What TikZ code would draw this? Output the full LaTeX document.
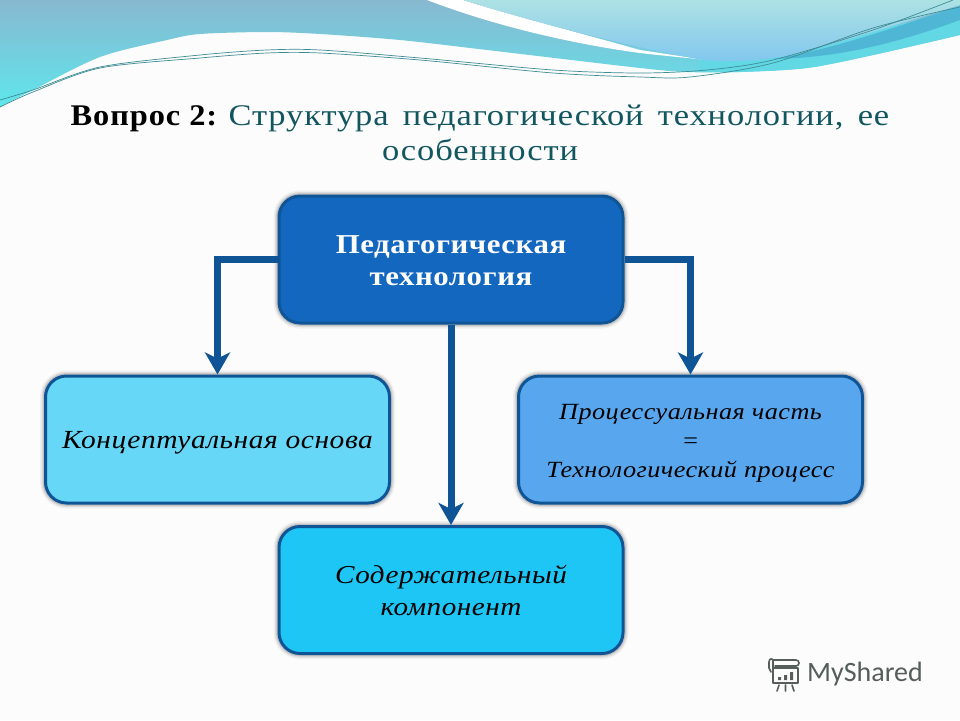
\documentclass[tikz,border=0pt]{standalone}
\usepackage{fontspec}
\setmainfont{Liberation Serif}
\newfontfamily\ttlfont[FakeStretch=1.15,LetterSpace=3,WordSpace=1.5]{Liberation Serif}
\newfontfamily\ttlstrong[FakeStretch=1.08,LetterSpace=3]{Liberation Serif}
\newfontfamily\boxfont[FakeStretch=1.13,LetterSpace=2]{Liberation Serif}
\newfontfamily\markfont{Carlito}
\usetikzlibrary{arrows.meta,shapes.misc}
\definecolor{pagebg}{HTML}{FCFCFC}
\definecolor{wavetop}{HTML}{88B8D0}
\definecolor{wavemid}{HTML}{70D2E0}
\definecolor{wavelow}{HTML}{5EE6EC}
\definecolor{paletop}{HTML}{ADE2E4}
\definecolor{palelow}{HTML}{80C6EE}
\definecolor{bandc}{HTML}{4FB6D6}
\definecolor{cyanc}{HTML}{62D8E4}
\definecolor{linec}{HTML}{3E8C94}
\definecolor{ttlc}{HTML}{12565F}
\definecolor{edgec}{HTML}{0F5596}
\definecolor{topfill}{HTML}{1367BE}
\definecolor{leftfill}{HTML}{67D7F7}
\definecolor{rightfill}{HTML}{57A6EE}
\definecolor{lowfill}{HTML}{1EC6F5}
\definecolor{markc}{HTML}{555E5B}
\tikzset{
  softedge/.style={preaction={draw=black,draw opacity=.05,line width=11pt},
                   preaction={draw=black,draw opacity=.08,line width=8pt},
                   preaction={draw=black,draw opacity=.12,line width=5.5pt}},
  boxnode/.style={rounded corners=21pt,draw=edgec,line width=3pt,softedge,
    minimum width=344pt,minimum height=127pt,inner sep=0pt,align=center,text=black},
  linkarrow/.style={draw=edgec,line width=7pt,-{Stealth[length=22pt,width=25pt,inset=6pt]}},
  waveline/.style={draw=linec,line width=.7pt},
  iconline/.style={draw=markc,line width=1.6pt,line cap=round,line join=round}
}
\begin{document}
\begin{tikzpicture}[x=1pt,y=-1pt]
\useasboundingbox (0,0) rectangle (960,720);
\fill[pagebg] (0,0) rectangle (960,720);
% waves
\shade[top color=wavetop,middle color=wavemid,bottom color=wavelow]
  (0,0) -- (960,0) -- (960,35)
  -- plot[smooth] coordinates {(960,35) (873,55) (807,68) (740,72) (687,72) (640,68) (487,50) (400,40) (320,34) (267,32) (200,34) (167,40) (100,57) (33,90) (0,107)}
  -- cycle;
\fill[cyanc] (700,58) -- (773,55) -- (960,10) -- (960,35)
  -- plot[smooth] coordinates {(960,35) (873,55) (807,68) (740,72) (700,72)} -- cycle;
\fill[white] (427,0) .. controls (500,28) and (580,45) .. (640,53) .. controls (665,56) and (690,58) .. (706,60)
  -- (640,50) .. controls (580,33) and (510,15) .. (463,0) -- cycle;
\shade[top color=paletop,bottom color=palelow]
  (463,0) .. controls (520,18) and (620,45) .. (703,60) .. controls (740,63) and (770,60) .. (800,53)
  .. controls (850,40) and (910,20) .. (960,5) -- (960,0) -- cycle;
\fill[bandc] (773,59) .. controls (840,48) and (900,25) .. (960,6) -- (960,20)
  .. controls (900,42) and (840,58) .. (773,59) -- cycle;
\draw[waveline] plot[smooth] coordinates {(0,100) (33,90) (100,67) (200,55) (267,50) (320,50) (420,58) (553,70) (640,73) (707,70) (773,60) (873,30) (953,0)};
\draw[waveline] plot[smooth] coordinates {(0,107) (33,92) (100,68) (200,58) (267,53) (320,53) (420,60) (553,73) (640,77) (690,77) (773,63) (873,28) (960,7)};
% title
\node[anchor=center,align=center,text=ttlc,font=\ttlfont\fontsize{30}{35}\selectfont] (title) at (480,132.5)
  {{\color{black}\ttlstrong\bfseries\fontsize{30}{35}\selectfont Вопрос 2:}\hspace{-6pt} Структура педагогической технологии, ее\\особенности};
% boxes
\node[boxnode,fill=topfill,text=white,font=\boxfont\bfseries\fontsize{27.3}{32}\selectfont] (peda) at (451,259.5) {\rule{0pt}{21pt}Педагогическая\\технология};
\node[boxnode,fill=leftfill,font=\boxfont\itshape\fontsize{26.1}{30}\selectfont] (konc) at (217.5,439.5) {\rule{0pt}{24pt}Концептуальная основа};
\node[boxnode,fill=rightfill,font=\boxfont\itshape\fontsize{23.2}{29}\selectfont] (proc) at (690.5,439.5) {\rule{0pt}{22pt}Процессуальная часть\\=\\Технологический процесс};
\node[boxnode,fill=lowfill,font=\boxfont\itshape\fontsize{25.8}{32}\selectfont] (sod) at (451,590) {Содержательный\\компонент};
% connectors
\draw[linkarrow] (peda.west) -| (konc.north);
\draw[linkarrow] (peda.east) -| (proc.north);
\draw[linkarrow] (peda.south) -- (sod.north);
% watermark
\node[anchor=west,text=markc,inner sep=0pt,font=\markfont\fontsize{28}{30}\selectfont] (mark) at (807,674) {MyShared};
\draw[iconline] (773,668) -- (773,661) .. controls (773,658) and (769,658) .. (769,662) -- (769,668) -- (771,672);
\draw[iconline] (773,660) -- (796,660) .. controls (800,660) and (800,666) .. (796,666) -- (775,666);
\draw[iconline] (773,668) rectangle (798,683);
\fill[markc] (778,677) rectangle (781,680) (784,675) rectangle (787,680) (790,672) rectangle (793,680);
\draw[iconline] (779,685) -- (777,691) (785.5,685) -- (785.5,691) (792,685) -- (794,691);
\end{tikzpicture}
\end{document}
